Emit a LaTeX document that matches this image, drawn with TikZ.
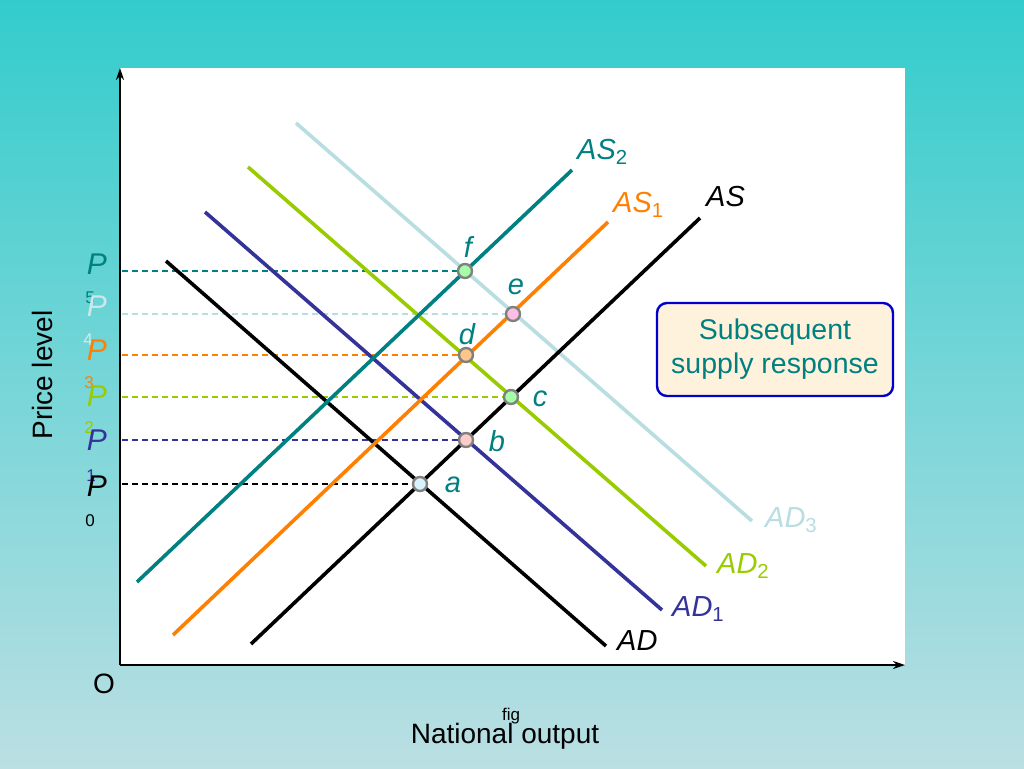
\documentclass[tikz,border=0pt]{standalone}
\usepackage{fontspec}
\setmainfont{Liberation Sans}
\usetikzlibrary{arrows.meta}
\definecolor{bgtop}{HTML}{33CCCC}
\definecolor{bgbot}{HTML}{BBDFE3}
\definecolor{cteal}{HTML}{008080}
\definecolor{corange}{HTML}{FF8000}
\definecolor{cgreen}{HTML}{99CC00}
\definecolor{cnavy}{HTML}{333399}
\definecolor{clight}{HTML}{B8DEE2}
\definecolor{cbox}{HTML}{FFF2DC}
\definecolor{cblue}{HTML}{0000CC}
\begin{document}
\begin{tikzpicture}[x=1pt,y=-1pt,
  curve/.style={line width=3.6pt},
  guide/.style={line width=1.5pt,dash pattern=on 6pt off 4pt},
  pt/.style={circle,draw=gray,line width=2.4pt,minimum size=14pt,inner sep=0pt},
  lbl/.style={font=\fontsize{29}{34}\selectfont\itshape,inner sep=0pt},
  plab/.style={font=\fontsize{30}{34}\selectfont\itshape,inner sep=0pt},
  sub/.style={font=\fontsize{17}{20}\selectfont,inner sep=0pt},
  txt/.style={font=\fontsize{28}{32}\selectfont,inner sep=0pt}]
\useasboundingbox (0,0) rectangle (1024,768);
\shade[top color=bgtop,bottom color=bgbot] (0,0) rectangle (1024,768);
\fill[white] (120,68) rectangle (905,665);
% axes
\coordinate (O) at (120,665);
\coordinate (ytop) at (120,68);
\coordinate (xend) at (905,665);
\draw[line width=2.4pt,-{Stealth[length=12pt,width=8pt]}] (O) -- (ytop);
\draw[line width=2.4pt,-{Stealth[length=12pt,width=8pt]}] (O) -- (xend);
% curve end points
\coordinate (as0a) at (251,644); \coordinate (as0b) at (700,218);
\coordinate (as1a) at (173,635); \coordinate (as1b) at (608,222);
\coordinate (as2a) at (137,582); \coordinate (as2b) at (572,170);
\coordinate (ad0a) at (166,261); \coordinate (ad0b) at (606,646);
\coordinate (ad1a) at (205,212); \coordinate (ad1b) at (662,610);
\coordinate (ad2a) at (248,167); \coordinate (ad2b) at (706,566);
\coordinate (ad3a) at (296,123); \coordinate (ad3b) at (752,521);
% point positions
\coordinate (pa) at (420,484);
\coordinate (pb) at (466,440);
\coordinate (pc) at (511,397);
\coordinate (pd) at (466,355);
\coordinate (pe) at (513,314);
\coordinate (pf) at (465,271);
% dashed guides
\coordinate (y0) at (122,484);
\coordinate (y1) at (122,440);
\coordinate (y2) at (122,397);
\coordinate (y3) at (122,355);
\coordinate (y4) at (122,314);
\coordinate (y5) at (122,271);
\draw[guide,black] (y0) -- (pa);
\draw[guide,cnavy] (y1) -- (pb);
\draw[guide,cgreen] (y2) -- (pc);
\draw[guide,corange] (y3) -- (pd);
\draw[guide,clight] (y4) -- (pe);
\draw[guide,cteal] (y5) -- (pf);
% curves
\draw[curve,clight] (ad3a) -- (ad3b);
\draw[curve,cgreen] (ad2a) -- (ad2b);
\draw[curve,cnavy] (ad1a) -- (ad1b);
\draw[curve,black] (ad0a) -- (ad0b);
\draw[curve,black] (as0a) -- (as0b);
\draw[curve,corange] (as1a) -- (as1b);
\draw[curve,cteal] (as2a) -- (as2b);
% points on top
\node[pt,fill=cyan!15] (a) at (pa) {};
\node[pt,fill=red!20] (b) at (pb) {};
\node[pt,fill=green!35] (c) at (pc) {};
\node[pt,fill=orange!45] (d) at (pd) {};
\node[pt,fill=magenta!25] (e) at (pe) {};
\node[pt,fill=green!35] (f) at (pf) {};
% point labels
\node[lbl,text=cteal] (la) at (453,485) {a};
\node[lbl,text=cteal] (lb) at (497,441) {b};
\node[lbl,text=cteal] (lc) at (540,399) {c};
\node[lbl,text=cteal] (ld) at (467,334) {d};
\node[lbl,text=cteal] (le) at (516,287) {e};
\node[lbl,text=cteal] (lf) at (468,247) {f};
% curve labels
\node[lbl,text=cteal,anchor=west] (las2) at (577,152) {AS\textsubscript{\upshape 2}};
\node[lbl,text=corange,anchor=west] (las1) at (613,205) {AS\textsubscript{\upshape 1}};
\node[lbl,text=black,anchor=west] (las) at (706,197) {AS};
\node[lbl,text=clight,anchor=west] (lad3) at (765,520) {AD\textsubscript{\upshape 3}};
\node[lbl,text=cgreen,anchor=west] (lad2) at (717,566) {AD\textsubscript{\upshape 2}};
\node[lbl,text=cnavy,anchor=west] (lad1) at (672,609) {AD\textsubscript{\upshape 1}};
\node[lbl,text=black,anchor=west] (lad) at (617,641) {AD};
% price labels
\node[plab,text=cteal] (p5) at (97,264) {P};
\node[sub,text=cteal] (s5) at (90,298) {5};
\node[plab,text=clight!70!white] (p4) at (97,306) {P};
\node[sub,text=clight!60!white] (s4) at (88,340) {4};
\node[plab,text=corange] (p3) at (97,350) {P};
\node[sub,text=corange] (s3) at (89,383) {3};
\node[plab,text=cgreen] (p2) at (97,396) {P};
\node[sub,text=cgreen] (s2) at (89,428) {2};
\node[plab,text=cnavy] (p1) at (97,440) {P};
\node[sub,text=cnavy] (s1) at (91,476) {1};
\node[plab,text=black] (p0) at (97,486) {P};
\node[sub,text=black] (s0) at (90,521) {0};
% box
\node[draw=cblue,line width=2.4pt,fill=cbox,rounded corners=10pt,minimum width=236pt,minimum height=93pt,align=center,text=cteal,font=\fontsize{28.5}{34}\selectfont] (box) at (775,349.5) {Subsequent\\supply response};
% axis labels
\node[txt,rotate=90] (ylab) at (42,375) {Price level};
\node[txt] (olab) at (104,684) {O};
\node[txt] (xlab) at (505,736) {National output};
\node[sub] (fig) at (511,716) {fig};
\end{tikzpicture}
\end{document}
